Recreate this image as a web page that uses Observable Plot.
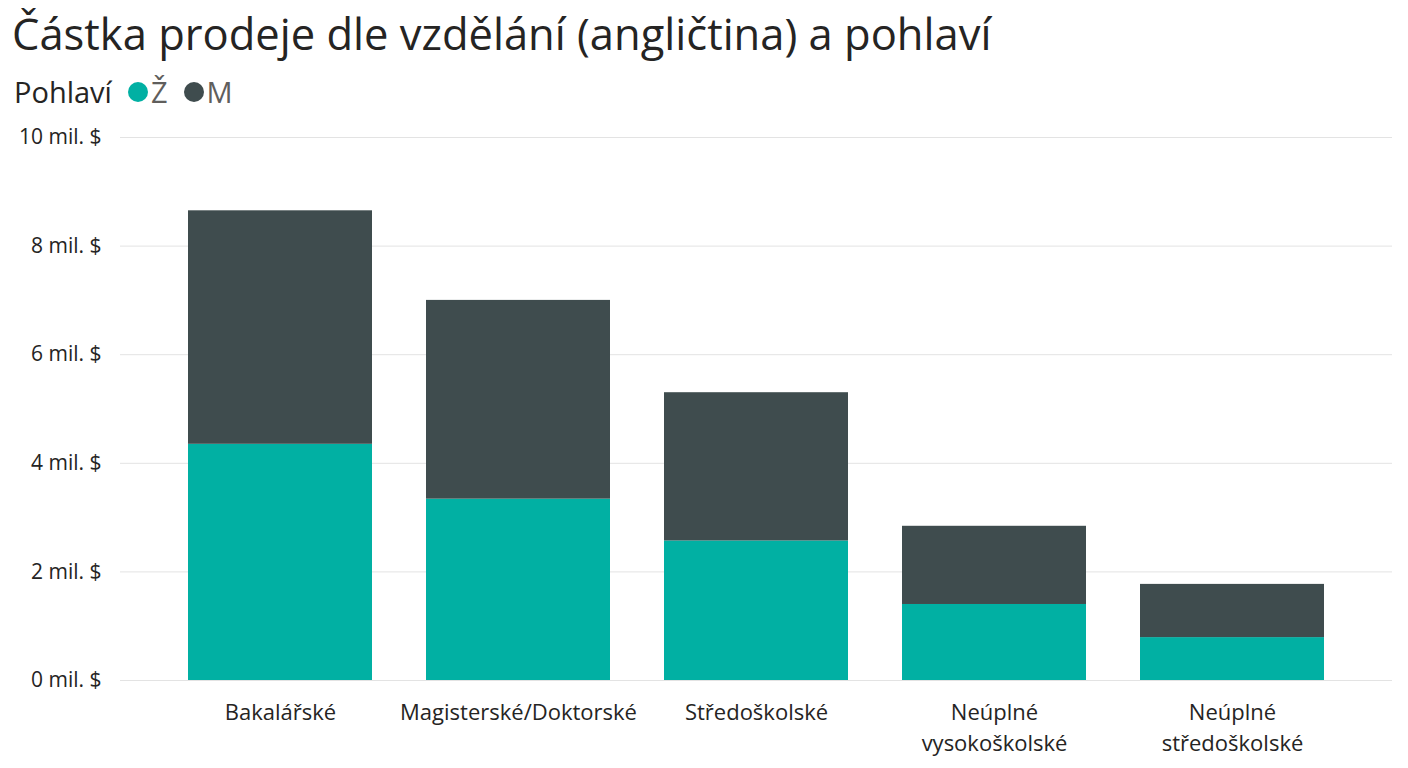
<!DOCTYPE html>
<html>
<head>
<meta charset="utf-8">
<script src="https://cdn.jsdelivr.net/npm/d3@7"></script>
<script src="https://cdn.jsdelivr.net/npm/@observablehq/plot@0.6"></script>
<style>
  html, body { margin: 0; padding: 0; background: #fff; }
  body { width: 1408px; height: 768px; position: relative; overflow: hidden; font-family: "Open Sans", sans-serif; }
  #title { position: absolute; left: 12px; top: 8px; font-size: 43.5px; line-height: 1.2; color: #252423; white-space: nowrap; }
  #legend { position: absolute; left: 14px; top: 75px; font-size: 29px; line-height: 1.2; color: #252423; display: flex; align-items: center; white-space: nowrap; }
  #legend .sw { display: inline-block; width: 20px; height: 20px; border-radius: 50%; margin-right: 3px; }
  #legend .item { display: flex; align-items: center; color: #605E5C; margin-left: 16px; }
  #legend .item + .item { margin-left: 16px; }
  #chart { position: absolute; left: 0; top: 120px; }
  #chart svg text { font-family: "Open Sans", sans-serif; }
</style>
</head>
<body>
<div id="title">Částka prodeje dle vzdělání (angličtina) a pohlaví</div>
<div id="legend"></div>
<div id="chart"></div>
<script>
const categories = ["Bakalářské", "Magisterské/Doktorské", "Středoškolské", "Neúplné vysokoškolské", "Neúplné středoškolské"];
const categoryLabels = ["Bakalářské", "Magisterské/Doktorské", "Středoškolské", "Neúplné\nvysokoškolské", "Neúplné\nstředoškolské"];
const genders = ["Ž", "M"];
const colors = ["#01B0A3", "#3F4C4E"];
const valuesZ = [4.35, 3.34, 2.57, 1.40, 0.79];
const valuesM = [4.30, 3.66, 2.73, 1.44, 0.98];
const yTicks = [0, 2, 4, 6, 8, 10];

const rows = [];
categories.forEach((c, i) => rows.push({category: c, gender: "Ž", value: valuesZ[i]}));
categories.forEach((c, i) => rows.push({category: c, gender: "M", value: valuesM[i]}));

const legend = document.getElementById("legend");
legend.innerHTML = `<span>Pohlaví</span>` + genders.map((g, i) =>
  `<span class="item"><span class="sw" style="background:${colors[i]}"></span>${g}</span>`).join("");

const labelOf = new Map(categories.map((c, i) => [c, categoryLabels[i]]));

const chart = Plot.plot({
  width: 1408,
  height: 648,
  marginLeft: 120,
  marginRight: 16,
  marginTop: 17,
  marginBottom: 88,
  style: {fontFamily: "'Open Sans', sans-serif", fontSize: "21px", color: "#252423", background: "#fff"},
  x: {domain: categories, padding: 0.228, insetLeft: 13, insetRight: 13, label: null},
  y: {domain: [0, 10], label: null},
  color: {domain: genders, range: colors},
  marks: [
    Plot.gridY(yTicks, {stroke: "#e3e3e3", strokeOpacity: 1, strokeWidth: 1}),
    Plot.barY(rows, Plot.stackY({x: "category", y: "value", fill: "gender", order: null})),
    Plot.axisY({ticks: yTicks, tickSize: 0, tickPadding: 19, tickFormat: d => `${d} mil. $`, fontSize: "21px", fill: "#252423"}),
    Plot.axisX({tickSize: 0, tickPadding: 18, tickFormat: d => labelOf.get(d), fontSize: "22px", lineHeight: 1.4, fill: "#252423"})
  ]
});
document.getElementById("chart").appendChild(chart);
</script>
</body>
</html>
